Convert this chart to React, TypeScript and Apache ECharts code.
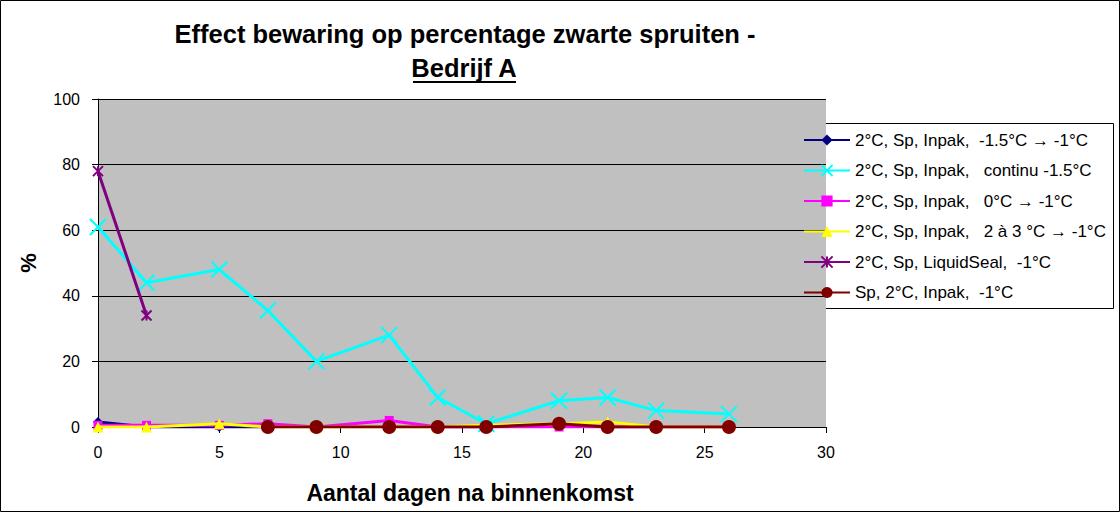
import React, { useEffect, useRef } from "react";
import * as echarts from "echarts";

const seriesNames = [
  "2°C, Sp, Inpak,  -1.5°C → -1°C",
  "2°C, Sp, Inpak,   continu -1.5°C",
  "2°C, Sp, Inpak,   0°C → -1°C",
  "2°C, Sp, Inpak,   2 à 3 °C → -1°C",
  "2°C, Sp, LiquidSeal,  -1°C",
  "Sp, 2°C, Inpak,  -1°C",
];
const colors = ["#000080", "#00FFFF", "#FF00FF", "#FFFF00", "#800080", "#800000"];

const navyData = [[0, 1.5], [2, 0], [5, 0], [7, 0]];
const cyanData = [[0, 61], [2, 44], [5, 48], [7, 35.5], [9, 20], [12, 28], [14, 9], [16, 1], [19, 8], [21, 9], [23, 5], [26, 4]];
const magentaData = [[0, 0.5], [2, 0.5], [5, 0.5], [7, 1], [9, 0], [12, 2], [14, 0], [16, 0], [19, 0], [21, 0], [23, 0], [26, 0]];
const yellowData = [[0, 0], [2, 0], [5, 1], [7, 0], [9, 0], [12, 0], [14, 0], [16, 0.5], [19, 1], [21, 1.5], [23, 0], [26, 0]];
const purpleData = [[0, 78], [2, 34]];
const brownData = [[7, 0], [9, 0], [12, 0], [14, 0], [16, 0], [19, 1], [21, 0], [23, 0], [26, 0]];

const xTicks = { min: 0, max: 30, interval: 5 };
const yTicks = { min: 0, max: 100, interval: 20 };

const crossPath = "path://M0,0L10,10M10,0L0,10";
const starPath = "path://M0,0L10,10M10,0L0,10M5,0L5,10";

export default function App() {
  const ref = useRef<HTMLDivElement>(null);
  useEffect(() => {
    document.body.style.margin = "0";
    const chart = echarts.init(ref.current!, null, { renderer: "svg" });
    const font = "Arial, 'Liberation Sans', sans-serif";
    const datasets = [navyData, cyanData, magentaData, yellowData, purpleData, brownData];
    const symbols = ["diamond", crossPath, "rect", "triangle", starPath, "circle"];
    const sizes = [10, 16, 9, 11, 10, 14];
    const series = datasets.map((d, i) => ({
      name: seriesNames[i],
      type: "line",
      data: d,
      symbol: symbols[i],
      symbolSize: sizes[i],
      showAllSymbol: true,
      lineStyle: { color: colors[i], width: 3 },
      itemStyle: {
        color: colors[i],
        borderColor: colors[i],
        borderWidth: i === 1 || i === 4 ? 2 : 0,
      },
      z: 2 + i,
    }));
    chart.setOption({
      animation: false,
      backgroundColor: "#FFFFFF",
      textStyle: { fontFamily: font },
      grid: {
        left: 98,
        right: 294,
        top: 99,
        bottom: 85,
        show: true,
        backgroundColor: "#C0C0C0",
        borderWidth: 0,
      },
      xAxis: {
        type: "value",
        min: xTicks.min,
        max: xTicks.max,
        interval: xTicks.interval,
        axisLine: { lineStyle: { color: "#000", width: 1 } },
        axisTick: { show: true, length: 6, lineStyle: { color: "#000" } },
        axisLabel: { color: "#000", fontSize: 16, margin: 17, fontFamily: font },
        splitLine: { show: false },
      },
      yAxis: {
        type: "value",
        min: yTicks.min,
        max: yTicks.max,
        interval: yTicks.interval,
        axisLine: { show: true, lineStyle: { color: "#000", width: 1 } },
        axisTick: { show: true, length: 6, lineStyle: { color: "#000" } },
        axisLabel: { color: "#000", fontSize: 16, margin: 18, fontFamily: font },
        splitLine: { show: true, lineStyle: { color: "#000", width: 1 } },
      },
      legend: {
        orient: "vertical",
        left: 803,
        top: 130,
        itemWidth: 46,
        itemHeight: 14,
        itemGap: 10.5,
        padding: 0,
        textStyle: { fontSize: 17, lineHeight: 20, color: "#000", fontFamily: font },
        data: seriesNames,
      },
      graphic: [
        {
          type: "rect",
          shape: { x: 0.5, y: 0.5, width: 1119, height: 511 },
          style: { fill: "none", stroke: "#000", lineWidth: 1 },
          silent: true,
          z: 100,
        },
        {
          type: "rect",
          shape: { x: 797.5, y: 123.5, width: 316, height: 185 },
          style: { fill: "#fff", stroke: "#000", lineWidth: 1 },
          z: -1,
          silent: true,
        },
        {
          type: "text",
          x: 465,
          y: 34,
          style: {
            text: "Effect bewaring op percentage zwarte spruiten -",
            font: `bold 25.5px ${font}`,
            fill: "#000",
            align: "center",
            verticalAlign: "middle",
          },
        },
        {
          type: "text",
          x: 464,
          y: 68,
          style: {
            text: "Bedrijf A",
            font: `bold 25.5px ${font}`,
            fill: "#000",
            align: "center",
            verticalAlign: "middle",
          },
        },
        {
          type: "line",
          shape: { x1: 413, y1: 82, x2: 516, y2: 82 },
          style: { stroke: "#000", lineWidth: 2 },
        },
        {
          type: "text",
          x: 470,
          y: 493,
          style: {
            text: "Aantal dagen na binnenkomst",
            font: `bold 23px ${font}`,
            fill: "#000",
            align: "center",
            verticalAlign: "middle",
          },
        },
        {
          type: "text",
          x: 28,
          y: 263,
          rotation: Math.PI / 2,
          style: {
            text: "%",
            font: `bold 22px ${font}`,
            fill: "#000",
            align: "center",
            verticalAlign: "middle",
          },
        },
      ],
      series,
    });
    return () => chart.dispose();
  }, []);
  return <div ref={ref} style={{ width: 1120, height: 512 }} />;
}
